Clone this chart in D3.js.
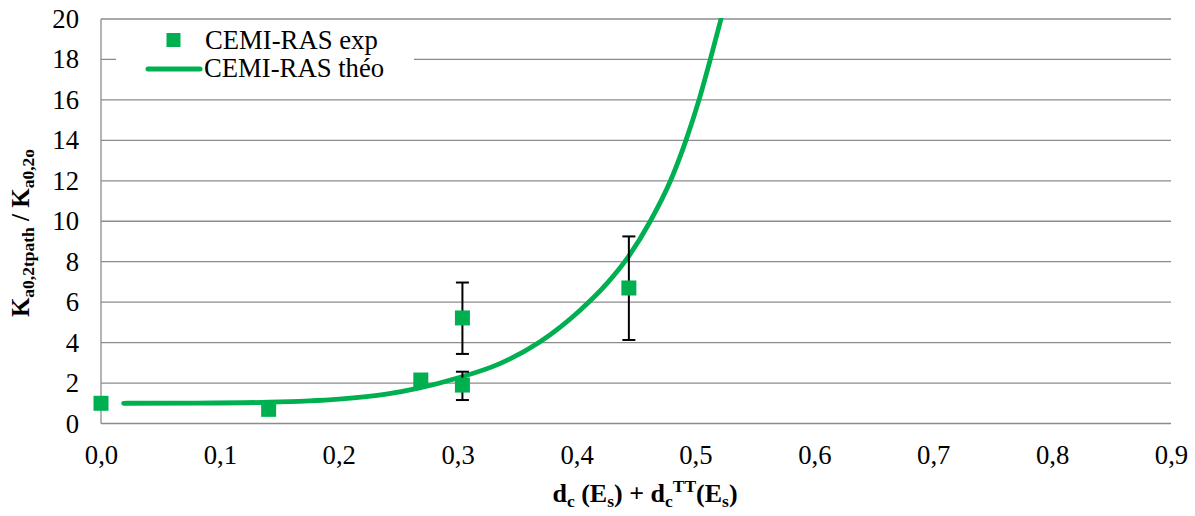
<!DOCTYPE html>
<html><head><meta charset="utf-8">
<script src="https://cdn.jsdelivr.net/npm/d3@7"></script>
<style>body{margin:0;background:#fff}svg{display:block}</style>
</head><body>
<svg id="c" width="1195" height="516"></svg>
<script>
const xTicks = [0,0.1,0.2,0.3,0.4,0.5,0.6,0.7,0.8,0.9];
const yTicks = [0,2,4,6,8,10,12,14,16,18,20];
const expX = [0.0, 0.141, 0.269, 0.304, 0.304, 0.444];
const expY = [1.0, 0.70, 2.15, 5.22, 1.9, 6.7];
const errLow = [null, null, null, 3.44, 1.16, 4.13];
const errHigh = [null, null, null, 6.97, 2.56, 9.25];
const theoX = [0.019, 0.08, 0.141, 0.2, 0.24, 0.268, 0.30, 0.335, 0.369, 0.403, 0.426, 0.443, 0.462, 0.479, 0.492, 0.503, 0.5125, 0.5215];
const theoY = [1.0, 1.01, 1.05, 1.2, 1.45, 1.76, 2.25, 2.95, 4.03, 5.6, 6.95, 8.2, 10, 12, 14, 16, 18, 20];
const legendLabels = ["CEMI-RAS exp", "CEMI-RAS théo"];
const green = "#00B050";
const FONT = '"Liberation Serif","Times New Roman",Tinos,serif';

const svg = d3.select("#c");
const L = 101, R = 1171, T = 19, B = 423.5;
const x = d3.scaleLinear().domain([0,0.9]).range([L,R]);
const y = d3.scaleLinear().domain([0,20]).range([B,T]);

// gridlines
svg.append("g").selectAll("line").data(yTicks.filter(d=>d>0)).join("line")
  .attr("x1",L).attr("x2",R).attr("y1",d=>y(d)).attr("y2",d=>y(d))
  .attr("stroke","#8c8c8c").attr("stroke-width",1.3);
svg.append("line").attr("x1",L).attr("x2",R).attr("y1",B).attr("y2",B).attr("stroke","#8c8c8c").attr("stroke-width",1.3);
svg.append("line").attr("x1",L).attr("x2",L).attr("y1",T).attr("y2",B).attr("stroke","#8c8c8c").attr("stroke-width",1.3);

// tick labels via axes
const xAx = svg.append("g").attr("transform",`translate(0,${B})`)
  .call(d3.axisBottom(x).tickValues(xTicks).tickSize(0).tickPadding(22).tickFormat(d=>d3.format(".1f")(d).replace(".",",")));
xAx.select(".domain").remove();
xAx.selectAll("text").style("font-family",FONT).style("font-size","26.7px").attr("fill","#000");
const yAx = svg.append("g").attr("transform",`translate(${L},0)`)
  .call(d3.axisLeft(y).tickValues(yTicks).tickSize(0).tickPadding(22).tickFormat(d3.format("d")));
yAx.select(".domain").remove();
yAx.selectAll("text").style("font-family",FONT).style("font-size","26.7px").attr("fill","#000");

// legend box
svg.append("rect").attr("x",116).attr("y",22).attr("width",298).attr("height",74).attr("fill","#fff");

// theory curve
svg.append("defs").append("clipPath").attr("id","clip").append("rect").attr("x",L).attr("y",T-1).attr("width",R-L).attr("height",B-T+2);
const line = d3.line().x(d=>x(d[0])).y(d=>y(d[1])).curve(d3.curveMonotoneX);
svg.append("path").datum(theoX.map((v,i)=>[v,theoY[i]])).attr("d",line)
  .attr("fill","none").attr("stroke",green).attr("stroke-width",4.8).attr("stroke-linecap","round").attr("clip-path","url(#clip)");

// error bars
const eb = svg.append("g").attr("stroke","#000").attr("stroke-width",2);
expX.forEach((v,i)=>{
  if(errLow[i]==null) return;
  eb.append("line").attr("x1",x(v)).attr("x2",x(v)).attr("y1",y(errLow[i])).attr("y2",y(errHigh[i]));
  [errLow[i],errHigh[i]].forEach(e=>eb.append("line").attr("x1",x(v)-6.5).attr("x2",x(v)+6.5).attr("y1",y(e)).attr("y2",y(e)));
});
// markers
const ms = 15;
svg.append("g").selectAll("rect").data(expX.map((v,i)=>[v,expY[i]])).join("rect")
  .attr("x",d=>x(d[0])-ms/2).attr("y",d=>y(d[1])-ms/2).attr("width",ms).attr("height",ms).attr("fill",green);

// legend entries
svg.append("rect").attr("x",166.5).attr("y",33).attr("width",14).attr("height",14).attr("fill",green);
svg.append("line").attr("x1",148).attr("x2",200).attr("y1",69).attr("y2",69).attr("stroke",green).attr("stroke-width",5).attr("stroke-linecap","round");
svg.append("text").attr("x",205).attr("y",49).style("font-family",FONT).style("font-size","26.7px").text(legendLabels[0]);
svg.append("text").attr("x",204).attr("y",77).style("font-family",FONT).style("font-size","26.7px").text(legendLabels[1]);

// x axis title
const xt = svg.append("text").attr("x",645).attr("y",502).attr("text-anchor","middle").style("font-family",FONT).style("font-size","26px").attr("font-weight","bold");
const sub = (t,txt,dy)=>t.append("tspan").style("font-size","17.5px").attr("dy",dy).text(txt);
xt.append("tspan").text("d");
sub(xt,"c",5);
xt.append("tspan").attr("dy",-5).text(" (E");
sub(xt,"s",5);
xt.append("tspan").attr("dy",-5).text(") + d");
sub(xt,"c",5);
sub(xt,"TT",-15);
xt.append("tspan").attr("dy",10).text("(E");
sub(xt,"s",5);
xt.append("tspan").attr("dy",-5).text(")");

// y axis title
const yt = svg.append("text").attr("transform","translate(29,233) rotate(-90)").attr("text-anchor","middle").style("font-family",FONT).style("font-size","25px").attr("font-weight","bold");
yt.append("tspan").text("K");
sub(yt,"a0,2tpath",5);
yt.append("tspan").attr("dy",-5).text(" / K");
sub(yt,"a0,2o",5);
</script>
</body></html>
